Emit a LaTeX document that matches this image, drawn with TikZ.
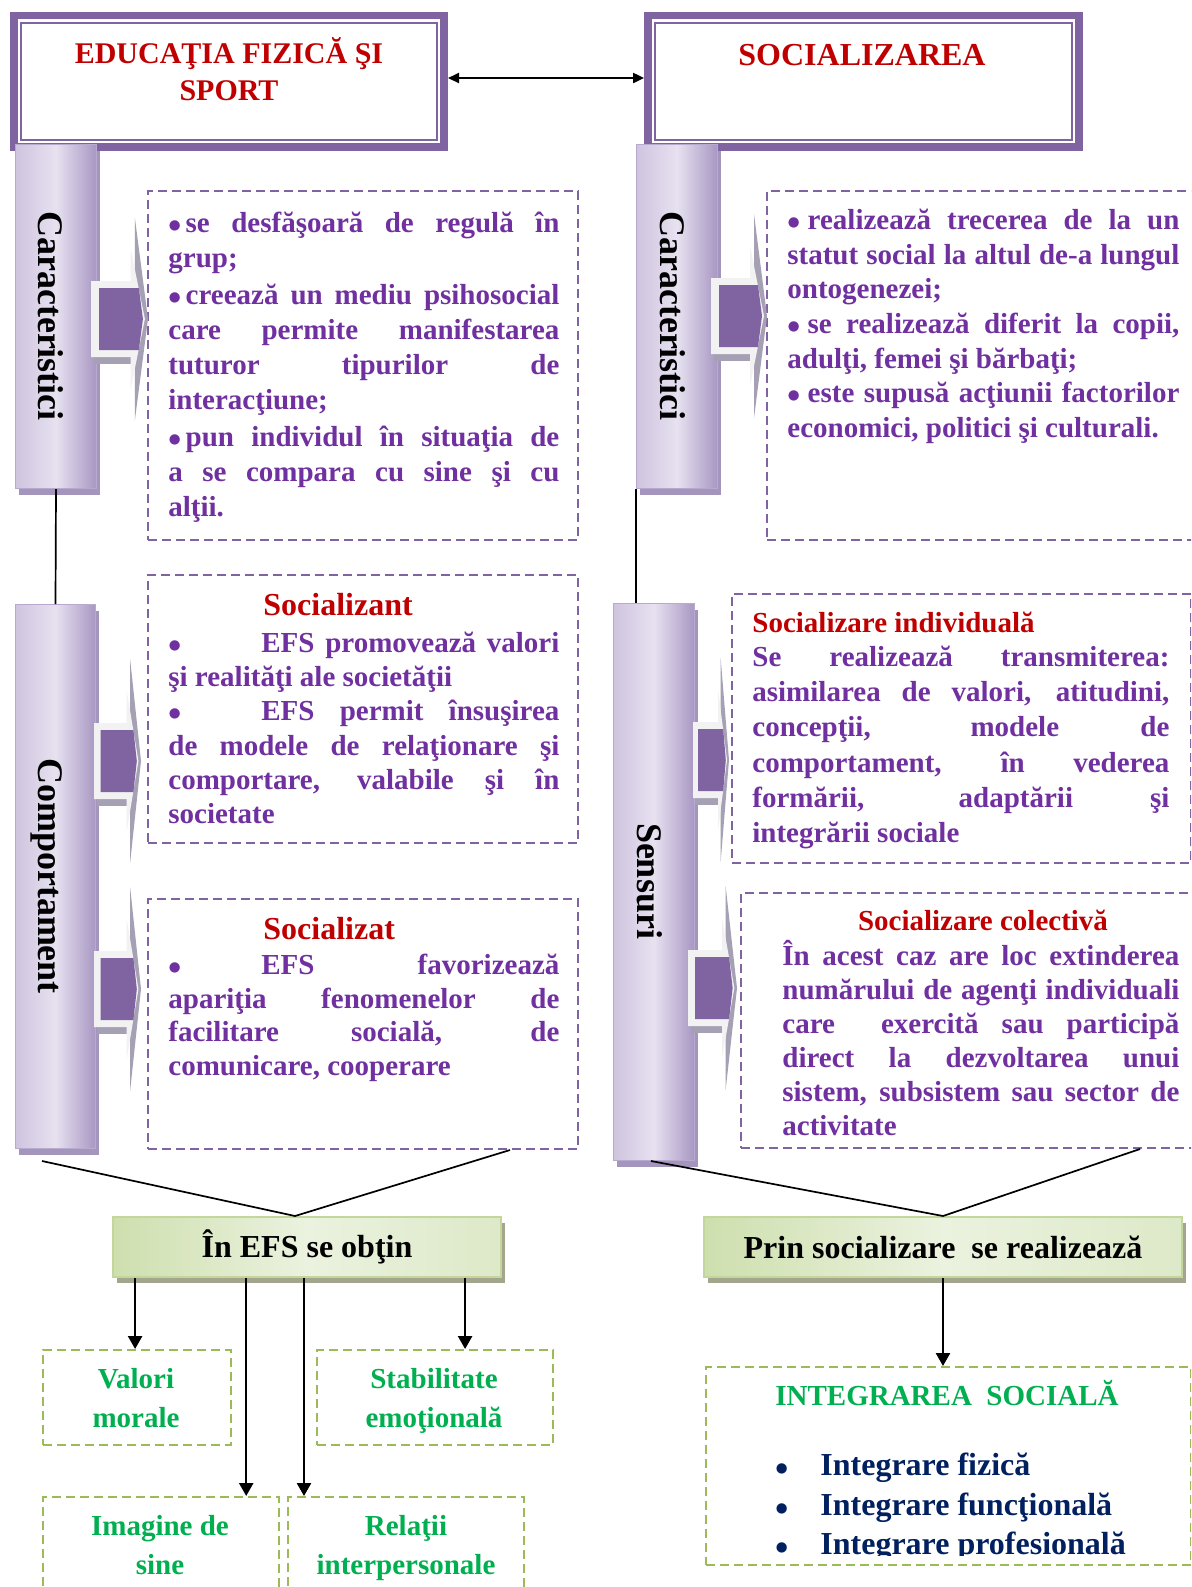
\documentclass[tikz,border=0pt]{standalone}
\usepackage{fontspec}
\setmainfont{Liberation Serif}
\usetikzlibrary{arrows.meta,shadows,calc}
\definecolor{txtpurple}{HTML}{7030A0}
\definecolor{txtred}{HTML}{C00000}
\definecolor{txtgreen}{HTML}{00B050}
\definecolor{txtblue}{HTML}{002060}
\definecolor{boxpurple}{HTML}{8064A2}
\definecolor{boxgreen}{HTML}{9BBB59}
\definecolor{barL}{HTML}{CFC4DF}
\definecolor{barM}{HTML}{E7E1F0}
\definecolor{barR}{HTML}{A897C3}
\definecolor{barline}{HTML}{B8A9CE}
\definecolor{barshadow}{HTML}{A395BC}
\definecolor{gshL}{HTML}{CEDFAE}
\definecolor{gshM}{HTML}{EBF2DF}
\definecolor{gshR}{HTML}{DDE9C8}
\definecolor{gline}{HTML}{C3D69B}
\definecolor{gshadow}{HTML}{A3A68C}
\definecolor{arrlight}{HTML}{F2F2F2}
\definecolor{arrgray}{HTML}{A5A0B4}
\newcommand\bs{\rule[-4.5pt]{0pt}{16pt}}
\newcommand\jl[1]{\hbox to\hsize{\bs #1}}
\newcommand\el[1]{\hbox{\bs #1}}
\newcommand\hs{\rule{0pt}{14pt}}
\newcommand\bul{\raisebox{-3pt}{\fontsize{19}{16}\selectfont •}}
\newcommand\tb{\makebox[46.5pt][l]{\bul}}
\newcommand\tblock[3]{\vbox{\hsize=#1\relax\baselineskip=#2\relax #3}}
\newcommand\blockarr[3]{%
\begin{scope}[shift={(#1,#3)}, xscale={(#2-#1)/56}]
\fill[arrgray] (43,-102) -- (56,0) -- (43,102) -- cycle;
\fill[arrgray] (3,38) rectangle (40,45);
\fill[arrlight] (0,-38) -- (39,-38) -- (39,-70) -- (53,0) -- (39,70) -- (39,38) -- (0,38) -- cycle;
\fill[boxpurple] (8,-31) -- (47,-31) -- (51,0) -- (47,31) -- (8,31) -- cycle;
\end{scope}}
\tikzset{
 topbox/.style={draw=boxpurple, line width=3.8pt, fill=white, inner sep=0pt},
 barbox/.style={draw=barline, line width=0.5pt, left color=barL, right color=barR, middle color=barM, drop shadow={shadow xshift=1.5pt, shadow yshift=-3pt, fill=barshadow, opacity=1}, anchor=north west, inner sep=0pt},
 barlabel/.style={rotate=-90, anchor=base, inner sep=0pt, font=\bfseries\fontsize{18}{20}\selectfont},
 dbox/.style={draw=boxpurple, line width=1pt, dash pattern=on 4.5pt off 2.5pt, anchor=north west, inner sep=0pt},
 gdbox/.style={draw=boxgreen, line width=1.1pt, dash pattern=on 4.5pt off 2.5pt, anchor=north west, inner sep=0pt},
 bodytxt/.style={anchor=north west, inner sep=0pt, text=txtpurple, font=\bfseries\fontsize{14.5}{17.5}\selectfont},
 headtxt/.style={inner sep=0pt, text=txtred, font=\bfseries\fontsize{14.5}{17.5}\selectfont},
 gbox/.style={draw=gline, line width=1pt, left color=gshL, right color=gshR, middle color=gshM, drop shadow={shadow xshift=2pt, shadow yshift=-3pt, fill=gshadow, opacity=1}, anchor=north west, inner sep=0pt, font=\bfseries\fontsize{16}{19}\selectfont},
 gtext/.style={anchor=north, inner sep=0pt, align=center, text=txtgreen, font=\bfseries\fontsize{14.5}{19.5}\selectfont},
 connline/.style={line width=0.85pt},
 downarr/.style={line width=1.25pt, -{Triangle[length=6.5pt,width=7pt]}},
}
\begin{document}
\begin{tikzpicture}[x=0.5pt,y=-0.5pt]
\useasboundingbox (0,0) rectangle (1191,1587);
\clip (0,0) rectangle (1191,1587);
\fill[white] (0,0) rectangle (1191,1587);
% top boxes
\node[topbox, minimum width=215.2pt, minimum height=65.7pt] (tl) at (229,81.3) {};
\draw[boxpurple, line width=1pt] ([shift={(5.6pt,5.6pt)}]tl.south west) rectangle ([shift={(-5.6pt,-5.6pt)}]tl.north east);
\node[topbox, minimum width=215.6pt, minimum height=65.7pt] (tr) at (863.5,81.3) {};
\draw[boxpurple, line width=1pt] ([shift={(5.6pt,5.6pt)}]tr.south west) rectangle ([shift={(-5.6pt,-5.6pt)}]tr.north east);
\node[anchor=north, inner sep=0pt, align=center, text=txtred, font=\bfseries\fontsize{15}{18.5}\selectfont] (tlT) at (229,35) {\hs EDUCAŢIA FIZICĂ ŞI\\SPORT};
\node[anchor=base, inner sep=0pt, text=txtred, font=\bfseries\fontsize{16}{19}\selectfont] (trT) at (862,65) {SOCIALIZAREA};
\draw[{Triangle[length=5.5pt,width=5pt]}-{Triangle[length=5.5pt,width=5pt]}, line width=1pt] ([yshift=1.65pt]tl.east) -- ([yshift=1.65pt]tr.west);
% dashed boxes
\node[dbox, minimum width=215pt, minimum height=174.5pt] (b1) at (147,190) {};
\node[dbox, minimum width=217pt, minimum height=174.5pt] (b2) at (766,190) {};
\node[dbox, minimum width=215pt, minimum height=134pt] (b3) at (147,574) {};
\node[dbox, minimum width=215pt, minimum height=125pt] (b4) at (147,898) {};
\node[dbox, minimum width=229.5pt, minimum height=134.5pt] (b5) at (731,593) {};
\node[dbox, minimum width=230pt, minimum height=127.5pt] (b6) at (740,892) {};
% bars
\node[barbox, minimum width=40.5pt, minimum height=172pt] (barL1) at (15,144) {};
\node[barbox, minimum width=40.5pt, minimum height=172pt] (barR1) at (636,144) {};
\node[barbox, minimum width=40pt, minimum height=272pt] (barL2) at (15,604) {};
\node[barbox, minimum width=40.5pt, minimum height=278.5pt] (barR2) at (613,603) {};
\node[barlabel] (lab1) at (39,316) {Caracteristici};
\node[barlabel] (lab2) at (660,316) {Caracteristici};
\node[barlabel] (lab3) at (39,876) {Comportament};
\node[barlabel] (lab4) at (637,881) {Sensuri};
\draw[connline] (barL1.south) -- (barL2.north);
\draw[connline] (barR1.south west) -- (barR1.south west |- barR2.north);
% block arrows
\blockarr{91}{148}{319}
\blockarr{711}{767}{316}
\blockarr{94}{141}{761}
\blockarr{94}{141}{989}
\blockarr{693}{729}{760}
\blockarr{688}{737}{988}
% texts
\node[bodytxt] (t1) at (168,209) {\tblock{195.5pt}{17.5pt}{%
\jl{\bul\kern2pt se desfăşoară de regulă în}
\el{grup;}
\vskip1pt
\jl{\bul\kern2pt creează un mediu psihosocial}
\jl{care permite manifestarea}
\jl{tuturor tipurilor de}
\el{interacţiune;}
\vskip1pt
\jl{\bul\kern2pt pun individul în situaţia de}
\jl{a se compara cu sine şi cu}
\el{alţii.}}};
\node[bodytxt] (t2) at (787,206) {\tblock{196pt}{17.35pt}{%
\jl{\bul\kern3.5pt realizează trecerea de la un}
\jl{statut social la altul de-a lungul}
\el{ontogenezei;}
\jl{\bul\kern3.5pt se realizează diferit la copii,}
\el{adulţi, femei şi bărbaţi;}
\jl{\bul\kern3.5pt este supusă acţiunii factorilor}
\el{economici, politici şi culturali.}}};
\node[headtxt, anchor=base west, font=\bfseries\fontsize{16}{19}\selectfont] (h3) at (263,615) {Socializant};
\node[bodytxt] (t3) at (168,629) {\tblock{195.5pt}{17.1pt}{%
\jl{\tb EFS promovează valori}
\el{şi realităţi ale societăţii}
\jl{\tb EFS permit însuşirea}
\jl{de modele de relaţionare şi}
\jl{comportare, valabile şi în}
\el{societate}}};
\node[headtxt, anchor=base west, font=\bfseries\fontsize{16}{19}\selectfont] (h4) at (263,939) {Socializat};
\node[bodytxt] (t4) at (168,951) {\tblock{195.5pt}{16.85pt}{%
\jl{\tb EFS favorizează}
\jl{apariţia fenomenelor de}
\jl{facilitare socială, de}
\el{comunicare, cooperare}}};
\node[headtxt, anchor=base west] (h5) at (752,632) {Socializare individuală};
\node[bodytxt] (t5) at (752,643) {\tblock{208.5pt}{17.6pt}{%
\jl{Se realizează transmiterea:}
\jl{asimilarea de valori, atitudini,}
\jl{concepţii, modele de}
\jl{comportament, în vederea}
\jl{formării, adaptării şi}
\el{integrării sociale}}};
\node[headtxt, anchor=base] (h6) at (983,930) {Socializare colectivă};
\node[bodytxt] (t6) at (782,940) {\tblock{198.5pt}{17pt}{%
\jl{În acest caz are loc extinderea}
\jl{numărului de agenţi individuali}
\jl{care\ \ exercită sau participă}
\jl{direct la dezvoltarea unui}
\jl{sistem, subsistem sau sector de}
\el{activitate}}};
% green boxes
\node[gbox, minimum width=194pt, minimum height=30pt] (gL) at (112,1216) {În EFS se obţin};
\node[gbox, minimum width=239pt, minimum height=30pt] (gR) at (703,1216) {Prin socializare\ \ se realizează};
\draw[connline] ([shift={(13.5pt,-6pt)}]barL2.south west) -- ([xshift=-6pt]gL.north) -- ([xshift=-34.5pt]b4.south east);
\draw[connline] ([xshift=19pt]barR2.south west) -- (gR.north) -- ([xshift=200pt]b6.south west);
\node[gdbox, minimum width=94pt, minimum height=47.5pt] (vm) at (42,1349) {};
\node[gdbox, minimum width=118pt, minimum height=47.5pt] (st) at (316,1349) {};
\node[gdbox, minimum width=118pt, minimum height=60pt] (im) at (42,1496) {};
\node[gdbox, minimum width=118pt, minimum height=60pt] (re) at (287,1496) {};
\node[gdbox, minimum width=242.5pt, minimum height=99pt] (ig) at (705,1366) {};
\node[gtext] (vmT) at (136,1360) {\hs Valori\\morale};
\node[gtext] (stT) at (434,1360) {\hs Stabilitate\\emoţională};
\node[gtext] (imT) at (160,1507) {\hs Imagine de\\sine};
\node[gtext] (reT) at (406,1507) {\hs Relaţii\\interpersonale};
\node[anchor=base, inner sep=0pt, text=txtgreen, font=\bfseries\fontsize{14.5}{17.5}\selectfont] (igT) at (947,1405) {INTEGRAREA\ \ SOCIALĂ};
\begin{scope}
\clip (705,1366) rectangle (1190,1555);
\node[anchor=north west, inner sep=0pt, text=txtblue, font=\bfseries\fontsize{16}{19.75}\selectfont] (igL) at (775,1447.5) {\vbox{%
\hbox{\hs\makebox[22.5pt][l]{\bul}Integrare fizică}
\hbox{\makebox[22.5pt][l]{\bul}Integrare funcţională}
\hbox{\makebox[22.5pt][l]{\bul}Integrare profesională}}};
\end{scope}
\coordinate (aVm) at ([xshift=-1pt]vm.north);
\coordinate (aSt) at ([xshift=15pt]st.north);
\coordinate (aIm) at ([xshift=-17pt]im.north east);
\coordinate (aRe) at ([xshift=8.5pt]re.north west);
\draw[downarr] (aVm |- gL.south) -- (aVm);
\draw[downarr] (aSt |- gL.south) -- (aSt);
\draw[downarr] (aIm |- gL.south) -- (aIm);
\draw[downarr] (aRe |- gL.south) -- (aRe);
\draw[downarr] (gR.south) -- (gR.south |- ig.north);
\end{tikzpicture}
\end{document}
